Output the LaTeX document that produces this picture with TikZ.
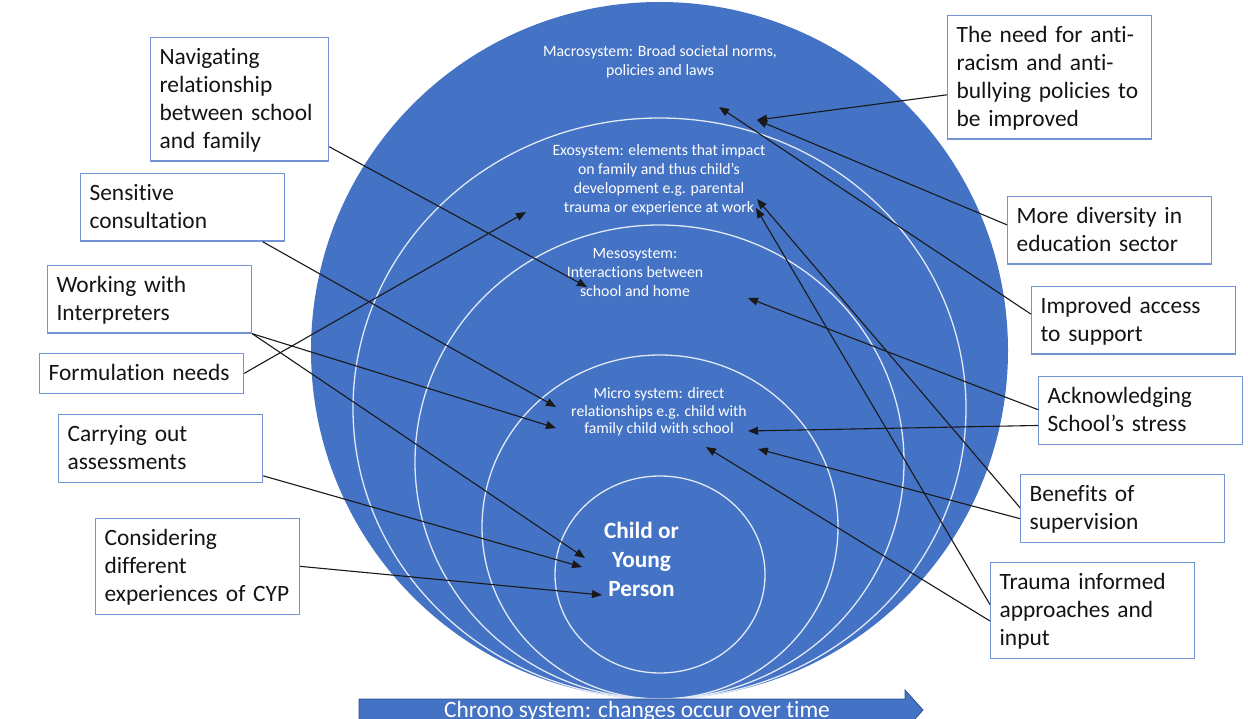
\documentclass[tikz,border=0pt]{standalone}
\usepackage{fontspec}
\setmainfont{Carlito}[Ligatures=NoCommon]
\usetikzlibrary{arrows.meta,calc}

\definecolor{ringblue}{RGB}{68,114,196}
\definecolor{ringline}{RGB}{226,233,246}
\definecolor{boxline}{RGB}{114,147,212}
\definecolor{arrowedge}{RGB}{47,82,143}

% struts fixing line heights inside the text blocks
\newcommand\boxstrut{\rule[-7.3pt]{0pt}{28pt}}
\newcommand\ringstrut{\rule[-4.9pt]{0pt}{19pt}}
\newcommand\microstrut{\rule[-4.9pt]{0pt}{17.5pt}}
\newcommand\childstrut{\rule[-8pt]{0pt}{29pt}}

\tikzset{
  note/.style={draw=boxline, line width=1.2pt, fill=white, anchor=north west,
    inner xsep=9pt, inner ysep=5.75pt, align=left, text width=186pt,
    font=\fontsize{23.4}{28}\selectfont, text=black!92,
    execute at begin node=\boxstrut, execute at end node=\boxstrut},
  ringtext/.style={anchor=north, inner sep=0pt, align=center, text=white,
    font=\fontsize{15.8}{19}\selectfont,
    execute at begin node=\ringstrut},
  microtext/.style={ringtext, font=\fontsize{15.7}{17.5}\selectfont,
    execute at begin node=\microstrut},
  childtext/.style={anchor=north, inner sep=0pt, align=center, text=white,
    font=\fontsize{23.3}{29}\selectfont\bfseries,
    execute at begin node=\childstrut},
  ring/.style={draw=ringline, line width=1.3pt},
  link/.style={line width=1.1pt, draw=black!90, -{Triangle[length=10pt,width=8pt]}},
}

\begin{document}
\begin{tikzpicture}[x=1pt,y=-1pt]
\clip (0,0) rectangle (1248,719);
\fill[white] (0,0) rectangle (1248,719);

% nested system rings
\fill[ringblue] (659.5,350.5) circle [radius=348.5pt];
\draw[ring] (659.5,408.5) ellipse [x radius=306.5pt, y radius=290.5pt];
\draw[ring] (659.5,462) ellipse [x radius=244.5pt, y radius=237pt];
\draw[ring] (660,527) ellipse [x radius=178pt, y radius=172pt];
\draw[ring] (660,574.5) ellipse [x radius=105pt, y radius=98.5pt];

% time arrow along the bottom
\filldraw[fill=ringblue, draw=arrowedge, line width=0.8pt]
  (359,699) -- (905,699) -- (905,690) -- (923,710) -- (905,730) -- (905,721) -- (359,721) -- cycle;
\node (chrono) [anchor=base, inner sep=0pt, text=white, font=\fontsize{23.4}{28}\selectfont]
  at (637,717) {Chrono system: changes occur over time};

% ring labels
\node (macro) [ringtext] at (660,44.9) {Macrosystem: Broad societal norms,\\policies and laws};
\node (exo) [ringtext] at (659,144) {Exosystem: elements that impact\\on family and thus child’s\\development e.g. parental\\trauma or experience at work};
\node (meso) [ringtext] at (635,247.9) {Mesosystem:\\Interactions between\\school and home};
\node (micro) [microtext] at (659,387.4) {Micro system: direct\\relationships e.g. child with\\family child with school};
\node (child) [childtext] at (641.5,522) {Child or\\Young\\Person};

% comment boxes, left
\node (nav) [note, text width=160pt] at (150,37) {Navigating\\relationship\\between school\\and family};
\node (sens) [note] at (80,173) {Sensitive\\consultation};
\node (interp) [note] at (47,265) {Working with\\Interpreters};
\node (formul) [note] at (39,353) {Formulation needs};
\node (assess) [note] at (58,414) {Carrying out\\assessments};
\node (cyp) [note] at (95,518) {Considering\\different\\experiences of CYP};

% comment boxes, right
\node (policy) [note] at (947,15) {The need for anti-\\racism and anti-\\bullying policies to\\be improved};
\node (divers) [note] at (1007,196) {More diversity in\\education sector};
\node (access) [note] at (1031,286) {Improved access\\to support};
\node (stress) [note] at (1038,376) {Acknowledging\\School’s stress};
\node (superv) [note] at (1020,474) {Benefits of\\supervision};
\node (trauma) [note] at (990,562) {Trauma informed\\approaches and\\input};

% arrow targets inside the rings
\coordinate (t-nav) at (587,287);
\coordinate (t-sens) at (556,407);
\coordinate (t-interp1) at (556,428);
\coordinate (t-interp2) at (585,558);
\coordinate (t-formul) at (526,212);
\coordinate (t-assess) at (582,567);
\coordinate (t-cyp) at (602,595);
\coordinate (t-policy) at (757,120);
\coordinate (t-access) at (719,107);
\coordinate (t-stress1) at (748,298);
\coordinate (t-stress2) at (748,431);
\coordinate (t-superv1) at (757,199);
\coordinate (t-superv2) at (758,449);
\coordinate (t-trauma1) at (756,208);
\coordinate (t-trauma2) at (706,447);

% connectors
\draw[link] ($(nav.north east)!0.88!(nav.south east)$) -- (t-nav);
\draw[link] ($(sens.south west)!0.89!(sens.south east)$) -- (t-sens);
\draw[link] (interp.south east) -- (t-interp1);
\draw[link] (interp.south east) -- (t-interp2);
\draw[link] (formul.east) -- (t-formul);
\draw[link] ($(assess.north east)!0.9!(assess.south east)$) -- (t-assess);
\draw[link] (cyp.east) -- (t-cyp);
\draw[link] ($(policy.north west)!0.64!(policy.south west)$) -- (t-policy);
\draw[link] ($(divers.north west)!0.42!(divers.south west)$) -- (t-policy);
\draw[link] ($(access.north west)!0.41!(access.south west)$) -- (t-access);
\draw[link] ($(stress.north west)!0.49!(stress.south west)$) -- (t-stress1);
\draw[link] ($(stress.north west)!0.72!(stress.south west)$) -- (t-stress2);
\draw[link] ($(superv.north west)!0.49!(superv.south west)$) -- (t-superv1);
\draw[link] ($(superv.north west)!0.65!(superv.south west)$) -- (t-superv2);
\draw[link] ($(trauma.north west)!0.44!(trauma.south west)$) -- (t-trauma1);
\draw[link] ($(trauma.north west)!0.61!(trauma.south west)$) -- (t-trauma2);
\end{tikzpicture}
\end{document}
